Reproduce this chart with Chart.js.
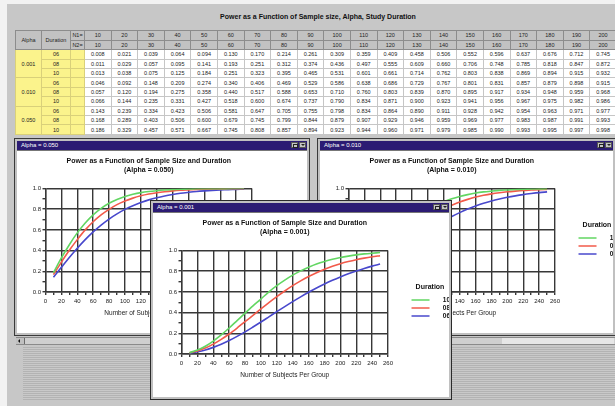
<!DOCTYPE html>
<html><head><meta charset="utf-8">
<script src="https://cdn.jsdelivr.net/npm/chart.js@4"></script>
<style>
html,body{margin:0;padding:0;width:615px;height:406px;overflow:hidden;background:#f2f2f2;font-family:"Liberation Sans",Arial,sans-serif;}
#frame{position:absolute;left:7px;top:4px;width:608px;height:402px;background:#c7c7c7;}
#stripes{position:absolute;left:23px;top:347px;width:592px;height:53px;background:repeating-linear-gradient(to bottom,#b3b3b3 0 1px,#c9c9c9 1px 2px);}
#maintitle{position:absolute;left:15px;top:13px;width:606px;text-align:center;font:bold 7px "Liberation Sans";color:#111;white-space:nowrap;}
#tbl{position:absolute;left:15px;top:30px;width:601px;border-collapse:collapse;table-layout:fixed;font:5.5px "Liberation Sans";color:#222;}
#tbl td{padding:0;text-align:center;white-space:nowrap;overflow:hidden;line-height:6px;}
#tbl tr.h td{background:#c2c2c2;border:1px solid #8c8c8c;height:8.6px;}
#tbl tr.d td{background:#fff;border:1px solid #c6c6c6;height:8.4px;}
#tbl tr.d td.y{background:#fbf38c;border-color:#d9d07a;}
#scroll{position:absolute;left:16px;top:337px;width:599px;height:8px;background:#cfcfcf;border-top:1px solid #8a8a8a;border-bottom:1px solid #8a8a8a;box-sizing:border-box;}
#scroll .btn{position:absolute;left:0;top:0;width:8px;height:6px;background:#c0c0c0;border-right:1px solid #6a6a6a;}
#scroll .arr{position:absolute;left:2px;top:1px;width:0;height:0;border-top:2px solid transparent;border-bottom:2px solid transparent;border-right:2px solid #111;}
#scroll .thumb{position:absolute;left:486px;top:0;width:112px;height:6px;background:#e6e6e6;}
.win{position:absolute;box-sizing:border-box;background:#c0c0c0;border:1px solid #3a3a3a;}
.tb{position:absolute;left:2px;right:2px;top:2px;height:9px;background:#2b1b73;color:#fff;font:6px "Liberation Sans";line-height:9px;padding-left:4px;white-space:nowrap;overflow:hidden;}
.tb i{position:absolute;top:1px;width:7px;height:6px;background:#c4c4c4;border:1px solid #555;box-sizing:border-box;}
.tb i.b1{right:9px;}
.tb i.b2{right:1px;}
.tb i.b1::after{content:"";position:absolute;left:1px;top:1px;width:3px;height:2px;border:1px solid #222;}
.tb i.b2::after{content:"";position:absolute;left:1px;top:1px;width:0;height:0;border-left:2px solid transparent;border-right:2px solid transparent;border-top:2px solid #222;}
.client{position:absolute;left:2px;top:11px;right:2px;bottom:2px;background:#fff;overflow:hidden;border-top:1px solid #777;box-sizing:border-box;}
.client canvas{position:absolute;left:0;top:-1px;}
</style>
</head>
<body>
<div id="frame"></div>
<div id="stripes"></div>
<div id="maintitle">Power as a Function of Sample size, Alpha, Study Duration</div>
<table id="tbl"></table>
<div id="scroll"><div class="btn"><div class="arr"></div></div><div class="thumb"></div></div>

<div class="win" style="left:14px;top:138px;width:296px;height:198px;z-index:1">
  <div class="tb">Alpha = 0.050<i class="b1"></i><i class="b2"></i></div>
  <div class="client"><canvas id="c050" width="297" height="185" style="width:297px;height:185px"></canvas></div>
</div>
<div class="win" style="left:317px;top:138px;width:299px;height:198px;z-index:2">
  <div class="tb">Alpha = 0.010<i class="b1"></i><i class="b2"></i></div>
  <div class="client"><canvas id="c010" width="297" height="185" style="width:297px;height:185px"></canvas></div>
</div>
<div class="win" style="left:150px;top:200px;width:302px;height:200px;z-index:3;border-color:#2a2a2a">
  <div class="tb">Alpha = 0.001<i class="b1"></i><i class="b2"></i></div>
  <div class="client"><canvas id="c001" width="297" height="185" style="width:297px;height:185px"></canvas></div>
</div>

<script>
// ---- data ----
const sampleSizes = [10,20,30,40,50,60,70,80,90,100,110,120,130,140,150,160,170,180,190,200,210,220,230,240,250];
const tableSizes = [10,20,30,40,50,60,70,80,90,100,110,120,130,140,150,160,170,180,190,200];
const alphaLevels = ['0.001','0.010','0.050'];
const durations = ['06','08','10'];

const power_a001_d06 = [0.008,0.021,0.039,0.064,0.094,0.130,0.170,0.214,0.261,0.309,0.359,0.409,0.458,0.506,0.552,0.596,0.637,0.676,0.712,0.745,0.775,0.802,0.827,0.849,0.869];
const power_a001_d08 = [0.011,0.029,0.057,0.095,0.141,0.193,0.251,0.312,0.374,0.436,0.497,0.555,0.609,0.660,0.706,0.748,0.785,0.818,0.847,0.872,0.893,0.911,0.926,0.939,0.950];
const power_a001_d10 = [0.013,0.038,0.075,0.125,0.184,0.251,0.323,0.395,0.465,0.531,0.601,0.661,0.714,0.762,0.803,0.838,0.869,0.894,0.915,0.932,0.946,0.958,0.967,0.974,0.980];
const power_a010_d06 = [0.046,0.092,0.148,0.209,0.274,0.340,0.406,0.469,0.529,0.586,0.638,0.686,0.729,0.767,0.801,0.831,0.857,0.879,0.898,0.915,0.929,0.941,0.951,0.960,0.967];
const power_a010_d08 = [0.057,0.120,0.194,0.275,0.358,0.440,0.517,0.588,0.653,0.710,0.760,0.803,0.839,0.870,0.895,0.917,0.934,0.948,0.959,0.968,0.975,0.981,0.985,0.989,0.991];
const power_a010_d10 = [0.066,0.144,0.235,0.331,0.427,0.518,0.600,0.674,0.737,0.790,0.834,0.871,0.900,0.923,0.941,0.956,0.967,0.975,0.982,0.986,0.990,0.993,0.995,0.996,0.997];
const power_a050_d06 = [0.143,0.239,0.334,0.423,0.506,0.581,0.647,0.705,0.755,0.798,0.834,0.864,0.890,0.911,0.928,0.942,0.954,0.963,0.971,0.977,0.982,0.986,0.989,0.992,0.994];
const power_a050_d08 = [0.168,0.289,0.403,0.506,0.600,0.679,0.745,0.799,0.844,0.879,0.907,0.929,0.946,0.959,0.969,0.977,0.983,0.987,0.991,0.993,0.995,0.996,0.997,0.998,0.999];
const power_a050_d10 = [0.186,0.329,0.457,0.571,0.667,0.745,0.808,0.857,0.894,0.923,0.944,0.960,0.971,0.979,0.985,0.990,0.993,0.995,0.997,0.998,0.999,0.999,0.999,1.000,1.000];

const seriesColors = {'10':'#62d662','08':'#f25a4a','06':'#4848cc'};

// lookup built from the arrays above
const lookup = {
  '0.001': {'06': power_a001_d06, '08': power_a001_d08, '10': power_a001_d10},
  '0.010': {'06': power_a010_d06, '08': power_a010_d08, '10': power_a010_d10},
  '0.050': {'06': power_a050_d06, '08': power_a050_d08, '10': power_a050_d10}
};

// ---- table ----
(function(){
  let h = '<colgroup><col style="width:26px"><col style="width:29px"><col style="width:14px">' +
          tableSizes.map(()=>'<col style="width:26.6px">').join('') + '</colgroup>';
  h += '<tr class="h"><td rowspan="2">Alpha</td><td rowspan="2">Duration</td><td>N1=</td>' +
       tableSizes.map(n=>'<td>'+n+'</td>').join('') + '</tr>';
  h += '<tr class="h"><td>N2=</td>' + tableSizes.map(n=>'<td>'+n+'</td>').join('') + '</tr>';
  alphaLevels.forEach(a => {
    durations.forEach((d, di) => {
      const vals = lookup[a][d];
      h += '<tr class="d">' + (di===0 ? '<td class="y" rowspan="3">'+a+'</td>' : '') +
           '<td class="y">'+d+'</td><td class="y"></td>' +
           tableSizes.map((n,i)=>'<td>'+vals[i].toFixed(3)+'</td>').join('') + '</tr>';
    });
  });
  document.getElementById('tbl').innerHTML = h;
})();

// ---- charts ----
Chart.defaults.font.family = '"Liberation Sans", Arial, sans-serif';
Chart.defaults.color = '#1a1a1a';
const GRID = '#383838';

function makeChart(id, alpha){
  const order = ['10','08','06'];
  const datasets = order.map(d => ({
    label: d,
    data: sampleSizes.map((n,i)=>({x:n, y: lookup[alpha][d][i]})),
    borderColor: seriesColors[d],
    backgroundColor: seriesColors[d],
    borderWidth: 1.6,
    pointRadius: 0,
    tension: 0.3,
    fill: false
  }));
  return new Chart(document.getElementById(id), {
    type: 'line',
    data: {datasets},
    options: {
      responsive: false, animation: false, devicePixelRatio: 1,
      layout: {padding: {left:0, right:0, top:0, bottom:18}},
      plugins: {
        tooltip: {enabled:false},
        title: {
          display: true, fullSize: false,
          text: ['Power as a Function of Sample Size and Duration', '(Alpha = ' + alpha + ')'],
          font: {size:7, weight:'bold', lineHeight:1.15}, color:'#111',
          padding: {top:7.5, bottom:14.9}
        },
        legend: {
          display: true, position: 'right', fullSize: false, align: 'center',
          title: {display:true, text:'Duration', font:{size:7, weight:'bold'}, color:'#111', padding:{top:0, bottom:3}},
          labels: {usePointStyle:true, pointStyle:'line', pointStyleWidth:18, font:{size:6.5, weight:'bold'}, color:'#111', padding:1.5, textAlign:'right'}
        }
      },
      scales: {
        x: {
          type:'linear', min:0, max:260,
          ticks: {stepSize:10, autoSkip:false, maxRotation:0, padding:3, font:{size:6}, color:'#222',
                  callback: v => (Math.round(v) % 20 === 0 ? String(Math.round(v)) : '')},
          grid: {color: c => (c.tick && Math.round(c.tick.value) % 20 === 0 ? GRID : 'rgba(0,0,0,0)'),
                 tickColor: GRID, tickLength:3, lineWidth:1.4},
          border: {color: GRID, width:1.4},
          title: {display:true, text:'Number of Subjects Per Group', font:{size:6.5}, color:'#222', padding:{top:0, bottom:0}},
          afterFit: s => { s.height = 25; }
        },
        y: {
          type:'linear', min:0, max:1,
          ticks: {stepSize:0.1, autoSkip:false, padding:1.5, font:{size:6}, color:'#222',
                  callback: v => (Math.round(v*10) % 2 === 0 ? v.toFixed(1) : '')},
          grid: {color: c => (c.tick && Math.round(c.tick.value*10) % 2 === 0 ? GRID : 'rgba(0,0,0,0)'),
                 tickColor: GRID, tickLength:3, lineWidth:1.4},
          border: {color: GRID, width:1.4},
          afterFit: s => { s.width = 28.5; }
        },
        y2: {
          type:'linear', position:'right', display:true,
          grid: {display:false}, border: {display:false}, ticks: {display:false},
          afterFit: s => { s.width = 22; }
        }
      }
    }
  });
}

makeChart('c050', '0.050');
makeChart('c010', '0.010');
makeChart('c001', '0.001');
</script>
</body></html>
